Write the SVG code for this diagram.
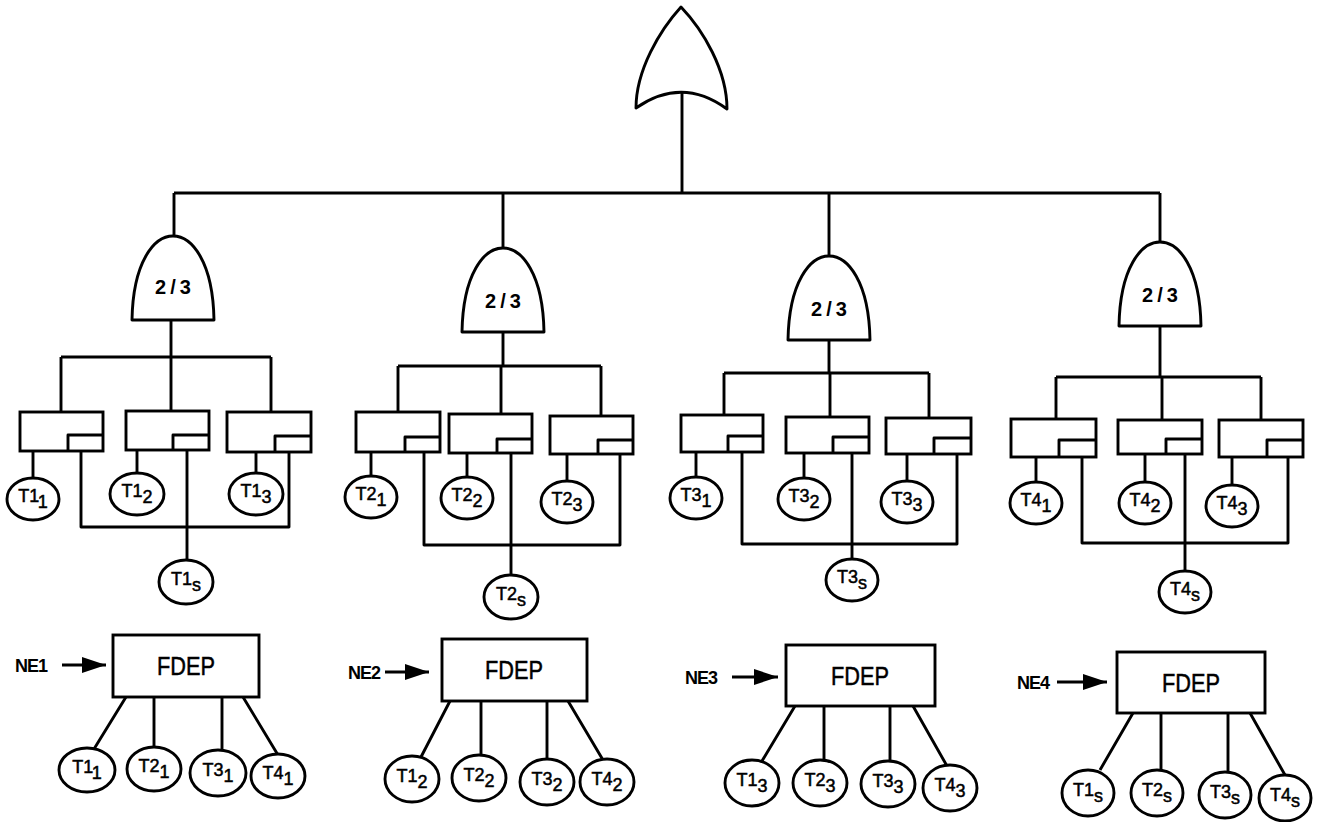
<svg xmlns="http://www.w3.org/2000/svg" width="1328" height="822" viewBox="0 0 1328 822">
<style>
.s{fill:none;stroke:#000;stroke-width:2.9;stroke-linejoin:round}
.b{fill:#fff;stroke:#000;stroke-width:2.9}
.g{fill:#fff;stroke:#000;stroke-width:2.9;stroke-linejoin:round}
.v{font-family:"Liberation Sans",Arial,sans-serif;font-weight:bold;font-size:20px;letter-spacing:4px;text-anchor:middle}
.t{font-family:"Liberation Sans",Arial,sans-serif;font-size:18px;text-anchor:middle;stroke:#000;stroke-width:0.5}
.f{font-family:"Liberation Sans",Arial,sans-serif;font-size:26px;text-anchor:middle;stroke:#000;stroke-width:0.5}
.n{font-family:"Liberation Sans",Arial,sans-serif;font-weight:bold;font-size:18px;letter-spacing:-1px}
</style>
<defs>
<marker id="ah" markerUnits="userSpaceOnUse" markerWidth="26" markerHeight="18" refX="24" refY="8" orient="auto"><path d="M0,0 L24,8 L0,16 Z" fill="#000"/></marker>
</defs>
<rect width="1328" height="822" fill="#fff"/>
<g id="connectors" class="s">
<path d="M682,92 V193 M174,193 H1160 M174,193 V236 M503,193 V248 M829,193 V256 M1160,193 V242"/>
<path d="M171,320 V357 M61,357 H271 M61,357 V412 M171,357 V411 M271,357 V412"/>
<path d="M33,451 V478 M137,450 V473 M256,452 V473"/>
<path d="M81,451 V527 H289 V452 M187,450 V560"/>
<path d="M503,332 V366 M398,366 H601 M398,366 V412 M501,366 V414 M601,366 V416"/>
<path d="M371,452 V476 M467,453 V477 M567,454 V481"/>
<path d="M424,452 V545 H620 V454 M511,453 V575"/>
<path d="M829,340 V373 M724,373 H929 M724,373 V415 M830,373 V417 M929,373 V418"/>
<path d="M696,452 V477 M804,453 V478 M907,454 V481"/>
<path d="M742,452 V544 H957 V454 M852,453 V559"/>
<path d="M1160,326 V377 M1056,377 H1261 M1056,377 V419 M1162,377 V420 M1261,377 V420"/>
<path d="M1036,457 V482 M1145,454 V482 M1232,457 V485"/>
<path d="M1082,457 V543 H1288 V457 M1185,454 V571"/>
<path d="M126,697 L94,749 M154,697 V747 M222,697 V751 M243,697 L278,755"/>
<path d="M450,701 L421,757 M481,701 V756 M547,701 V759 M568,701 L603,760"/>
<path d="M795,706 L762,761 M824,706 V760 M890,706 V761 M913,706 L947,766"/>
<path d="M1133,713 L1100,770 M1161,713 V770 M1228,713 V772 M1250,713 L1285,775"/>
<path d="M62,665 H106" marker-end="url(#ah)"/>
<path d="M385,672 H429" marker-end="url(#ah)"/>
<path d="M732,677 H778" marker-end="url(#ah)"/>
<path d="M1057,682 H1107" marker-end="url(#ah)"/>
</g>
<g id="or-top"><path class="g" d="M681,7 C703,30 727,70 727,109 Q682,76 636,108 C636,70 660,30 681,7 Z"/></g>
<g id="vote1"><path class="g" d="M132,320 C133,262 154,236 173,236 C192,236 213,262 214,320 Z"/><text class="v" x="175" y="294">2/3</text></g>
<g id="vote2"><path class="g" d="M462,332 C463,274 484,248 503,248 C522,248 543,274 544,332 Z"/><text class="v" x="505" y="308">2/3</text></g>
<g id="vote3"><path class="g" d="M788,340 C789,282 810,256 829,256 C848,256 869,282 870,340 Z"/><text class="v" x="831" y="316">2/3</text></g>
<g id="vote4"><path class="g" d="M1119,326 C1120,268 1141,242 1160,242 C1179,242 1200,268 1201,326 Z"/><text class="v" x="1162" y="302">2/3</text></g>
<g id="sp11"><rect class="b" x="20" y="412" width="83" height="39"/><path class="s" d="M68,451 V435 H103"/></g>
<g id="sp12"><rect class="b" x="126" y="411" width="83" height="39"/><path class="s" d="M173,450 V435 H209"/></g>
<g id="sp13"><rect class="b" x="227" y="412" width="84" height="40"/><path class="s" d="M275,452 V436 H311"/></g>
<g id="sp21"><rect class="b" x="356" y="412" width="84" height="40"/><path class="s" d="M405,452 V437 H440"/></g>
<g id="sp22"><rect class="b" x="449" y="414" width="83" height="39"/><path class="s" d="M497,453 V439 H532"/></g>
<g id="sp23"><rect class="b" x="550" y="416" width="83" height="38"/><path class="s" d="M598,454 V440 H633"/></g>
<g id="sp31"><rect class="b" x="681" y="415" width="82" height="37"/><path class="s" d="M728,452 V436 H763"/></g>
<g id="sp32"><rect class="b" x="786" y="417" width="83" height="36"/><path class="s" d="M833,453 V437 H869"/></g>
<g id="sp33"><rect class="b" x="886" y="418" width="85" height="36"/><path class="s" d="M934,454 V438 H971"/></g>
<g id="sp41"><rect class="b" x="1011" y="419" width="85" height="38"/><path class="s" d="M1059,457 V440 H1096"/></g>
<g id="sp42"><rect class="b" x="1118" y="420" width="84" height="34"/><path class="s" d="M1166,454 V439 H1202"/></g>
<g id="sp43"><rect class="b" x="1219" y="420" width="84" height="37"/><path class="s" d="M1267,457 V440 H1303"/></g>
<g id="u-T1-1"><ellipse class="b" cx="33" cy="499" rx="26" ry="21"/><text class="t" x="33" y="502">T1<tspan dy="6">1</tspan></text></g>
<g id="u-T1-2"><ellipse class="b" cx="137" cy="494" rx="27" ry="21"/><text class="t" x="137" y="497">T1<tspan dy="6">2</tspan></text></g>
<g id="u-T1-3"><ellipse class="b" cx="256" cy="494" rx="27" ry="21"/><text class="t" x="256" y="497">T1<tspan dy="6">3</tspan></text></g>
<g id="u-T1-s"><ellipse class="b" cx="186" cy="582" rx="27" ry="22"/><text class="t" x="186" y="585">T1<tspan dy="6">s</tspan></text></g>
<g id="u-T2-1"><ellipse class="b" cx="371" cy="497" rx="26" ry="21"/><text class="t" x="371" y="500">T2<tspan dy="6">1</tspan></text></g>
<g id="u-T2-2"><ellipse class="b" cx="467" cy="498" rx="26" ry="21"/><text class="t" x="467" y="501">T2<tspan dy="6">2</tspan></text></g>
<g id="u-T2-3"><ellipse class="b" cx="567" cy="502" rx="26" ry="21"/><text class="t" x="567" y="505">T2<tspan dy="6">3</tspan></text></g>
<g id="u-T2-s"><ellipse class="b" cx="511" cy="597" rx="27" ry="22"/><text class="t" x="511" y="600">T2<tspan dy="6">s</tspan></text></g>
<g id="u-T3-1"><ellipse class="b" cx="696" cy="498" rx="26" ry="21"/><text class="t" x="696" y="501">T3<tspan dy="6">1</tspan></text></g>
<g id="u-T3-2"><ellipse class="b" cx="804" cy="499" rx="26" ry="21"/><text class="t" x="804" y="502">T3<tspan dy="6">2</tspan></text></g>
<g id="u-T3-3"><ellipse class="b" cx="907" cy="502" rx="26" ry="21"/><text class="t" x="907" y="505">T3<tspan dy="6">3</tspan></text></g>
<g id="u-T3-s"><ellipse class="b" cx="852" cy="580" rx="26" ry="21"/><text class="t" x="852" y="583">T3<tspan dy="6">s</tspan></text></g>
<g id="u-T4-1"><ellipse class="b" cx="1036" cy="503" rx="26" ry="21"/><text class="t" x="1036" y="506">T4<tspan dy="6">1</tspan></text></g>
<g id="u-T4-2"><ellipse class="b" cx="1145" cy="503" rx="26" ry="21"/><text class="t" x="1145" y="506">T4<tspan dy="6">2</tspan></text></g>
<g id="u-T4-3"><ellipse class="b" cx="1232" cy="506" rx="26" ry="21"/><text class="t" x="1232" y="509">T4<tspan dy="6">3</tspan></text></g>
<g id="u-T4-s"><ellipse class="b" cx="1185" cy="592" rx="26" ry="21"/><text class="t" x="1185" y="595">T4<tspan dy="6">s</tspan></text></g>
<g id="fdep1"><rect class="b" x="113" y="635" width="146" height="62"/><text class="f" x="186" y="675" textLength="58" lengthAdjust="spacingAndGlyphs">FDEP</text><text class="n" x="15" y="672">NE1</text></g>
<g id="fdep2"><rect class="b" x="442" y="639" width="145" height="62"/><text class="f" x="514" y="679" textLength="58" lengthAdjust="spacingAndGlyphs">FDEP</text><text class="n" x="348" y="679">NE2</text></g>
<g id="fdep3"><rect class="b" x="786" y="645" width="149" height="61"/><text class="f" x="860" y="685" textLength="58" lengthAdjust="spacingAndGlyphs">FDEP</text><text class="n" x="685" y="684">NE3</text></g>
<g id="fdep4"><rect class="b" x="1117" y="652" width="148" height="61"/><text class="f" x="1191" y="692" textLength="58" lengthAdjust="spacingAndGlyphs">FDEP</text><text class="n" x="1017" y="689">NE4</text></g>
<g id="l-T1-1"><ellipse class="b" cx="87" cy="770" rx="28" ry="22"/><text class="t" x="87" y="773">T1<tspan dy="6">1</tspan></text></g>
<g id="l-T2-1"><ellipse class="b" cx="154" cy="769" rx="27" ry="22"/><text class="t" x="154" y="772">T2<tspan dy="6">1</tspan></text></g>
<g id="l-T3-1"><ellipse class="b" cx="218" cy="773" rx="28" ry="23"/><text class="t" x="218" y="776">T3<tspan dy="6">1</tspan></text></g>
<g id="l-T4-1"><ellipse class="b" cx="278" cy="776" rx="27" ry="22"/><text class="t" x="278" y="779">T4<tspan dy="6">1</tspan></text></g>
<g id="l-T1-2"><ellipse class="b" cx="412" cy="779" rx="27" ry="23"/><text class="t" x="412" y="782">T1<tspan dy="6">2</tspan></text></g>
<g id="l-T2-2"><ellipse class="b" cx="479" cy="778" rx="27" ry="23"/><text class="t" x="479" y="781">T2<tspan dy="6">2</tspan></text></g>
<g id="l-T3-2"><ellipse class="b" cx="547" cy="782" rx="27" ry="23"/><text class="t" x="547" y="785">T3<tspan dy="6">2</tspan></text></g>
<g id="l-T4-2"><ellipse class="b" cx="607" cy="782" rx="27" ry="23"/><text class="t" x="607" y="785">T4<tspan dy="6">2</tspan></text></g>
<g id="l-T1-3"><ellipse class="b" cx="752" cy="783" rx="27" ry="23"/><text class="t" x="752" y="786">T1<tspan dy="6">3</tspan></text></g>
<g id="l-T2-3"><ellipse class="b" cx="820" cy="783" rx="27" ry="23"/><text class="t" x="820" y="786">T2<tspan dy="6">3</tspan></text></g>
<g id="l-T3-3"><ellipse class="b" cx="888" cy="784" rx="27" ry="23"/><text class="t" x="888" y="787">T3<tspan dy="6">3</tspan></text></g>
<g id="l-T4-3"><ellipse class="b" cx="950" cy="788" rx="27" ry="23"/><text class="t" x="950" y="791">T4<tspan dy="6">3</tspan></text></g>
<g id="l-T1-s"><ellipse class="b" cx="1088" cy="793" rx="26" ry="23"/><text class="t" x="1088" y="796">T1<tspan dy="6">s</tspan></text></g>
<g id="l-T2-s"><ellipse class="b" cx="1157" cy="793" rx="26" ry="23"/><text class="t" x="1157" y="796">T2<tspan dy="6">s</tspan></text></g>
<g id="l-T3-s"><ellipse class="b" cx="1225" cy="795" rx="26" ry="23"/><text class="t" x="1225" y="798">T3<tspan dy="6">s</tspan></text></g>
<g id="l-T4-s"><ellipse class="b" cx="1285" cy="798" rx="26" ry="23"/><text class="t" x="1285" y="801">T4<tspan dy="6">s</tspan></text></g>
</svg>
